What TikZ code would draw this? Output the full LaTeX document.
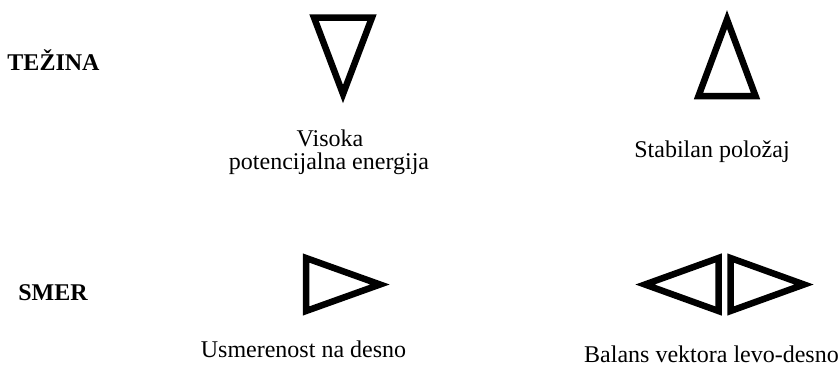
\documentclass[tikz,border=0pt]{standalone}
\usepackage{fontspec}
\setmainfont{Liberation Serif}
\begin{document}
\begin{tikzpicture}[x=1pt,y=-1pt,
  tri/.style={draw=black,line width=6.5pt,line join=miter,fill=white},
  lbl/.style={inner sep=0pt,anchor=base,font=\fontsize{24}{24}\selectfont},
  hdr/.style={inner sep=0pt,anchor=base,font=\fontsize{24}{24}\selectfont\bfseries}]
\useasboundingbox[fill=white] (0,0) rectangle (840,368);
% row labels
\node[hdr] (tezina) at (53.5,70) {TEŽINA};
\node[hdr] (smer) at (53,300.5) {SMER};
% weight triangles
\draw[tri] (314,17.5) -- (372,17.5) -- (343,94) -- cycle;
\draw[tri] (698.5,96) -- (755.5,96) -- (727,19.5) -- cycle;
% direction triangles
\draw[tri] (306,258) -- (306,311) -- (380,284.5) -- cycle;
\draw[tri] (718.5,258) -- (718.5,311) -- (645,284.5) -- cycle;
\draw[tri] (730.5,258) -- (730.5,311) -- (804,284.5) -- cycle;
% captions
\node[lbl] (visoka) at (330,146.5) {Visoka};
\node[lbl] (potenc) at (329,169) {potencijalna energija};
\node[lbl] (stab) at (712,157) {Stabilan položaj};
\node[lbl] (usm) at (303.5,357) {Usmerenost na desno};
\node[lbl] (bal) at (711.5,362) {Balans vektora levo-desno};
\end{tikzpicture}
\end{document}
